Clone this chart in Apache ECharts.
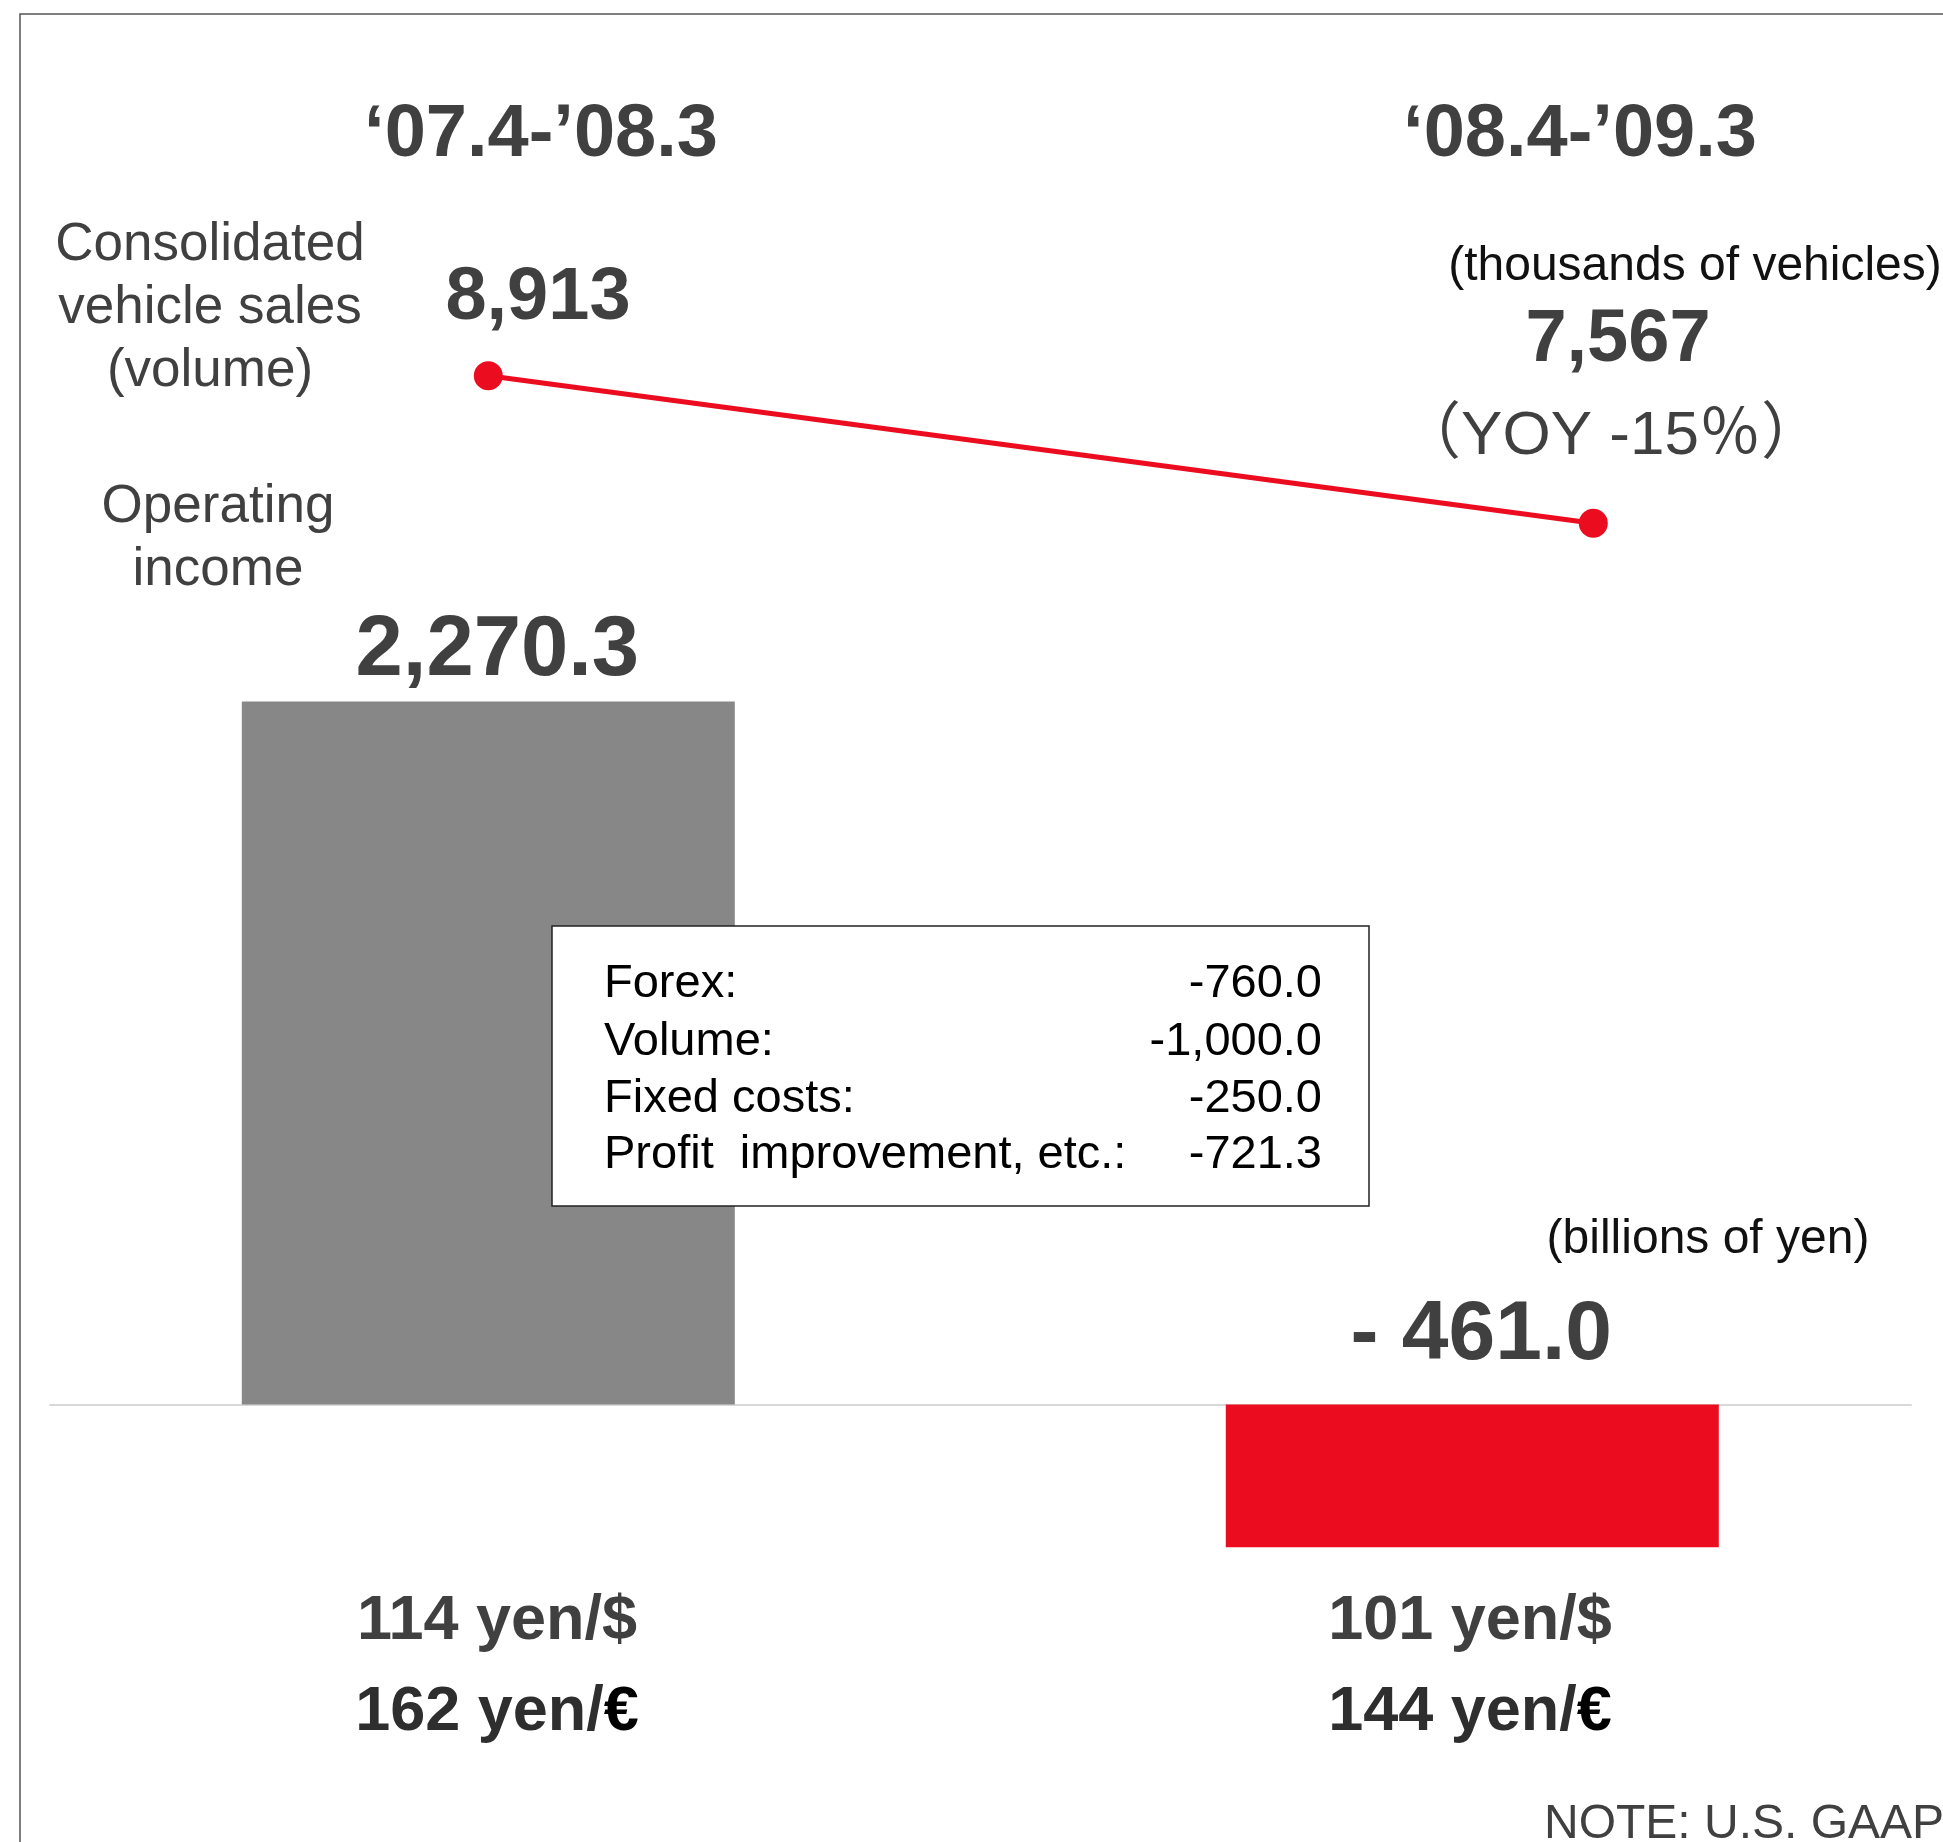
<!DOCTYPE html>
<html>
<head>
<meta charset="utf-8">
<script src="https://cdn.jsdelivr.net/npm/echarts@6/dist/echarts.min.js"></script>
<style>
html,body{margin:0;padding:0;background:#fff;}
#chart{width:1943px;height:1842px;}
</style>
</head>
<body>
<div id="chart"></div>
<script>
// ---- data ----
const categories = ['\u201807.4-\u201908.3', '\u201808.4-\u201909.3'];
const operatingIncome = [2270.3, -461.0];
const vehicleSales = [8913, 7567];
const yoyPercent = -15;
const usdRates = [114, 101];
const eurRates = [162, 144];
const factorLabels = ['Forex:', 'Volume:', 'Fixed costs:', 'Profit  improvement, etc.:'];
const factorValues = [-760.0, -1000.0, -250.0, -721.3];

// ---- helpers ----
const DARK = '#404040';
const RED = '#EC0C20';
const GRAY = '#878787';
const FONT = "'Liberation Sans', Arial, sans-serif";
function fmt(v, d) {
  return Math.abs(v).toLocaleString('en-US', {minimumFractionDigits: d, maximumFractionDigits: d});
}
function signed(v, d, gap) {
  return (v < 0 ? '-' + (gap ? ' ' : '') : '') + fmt(v, d);
}
function txt(text, x, y, size, opts) {
  opts = opts || {};
  return {
    type: 'text', z: 100,
    style: Object.assign({
      text: text, x: x, y: y,
      fontSize: size, fontFamily: opts.family || FONT,
      fontWeight: opts.bold ? 'bold' : 'normal',
      fill: opts.color || DARK,
      align: opts.align || 'center', verticalAlign: 'middle',
      lineHeight: opts.lineHeight || size * 1.2
    }, opts.extra || {})
  };
}

const chart = echarts.init(document.getElementById('chart'), null, {renderer: 'canvas'});

const option = {
  backgroundColor: '#ffffff',
  animation: false,
  grid: [
    {left: 488.3, width: 984, top: 630.25, height: 1084},
    {left: 50, width: 1861, top: 630.25, height: 1084},
    {left: 488.3, width: 1105, top: 366.16, height: 219.3}
  ],
  xAxis: [
    {gridIndex: 0, type: 'category', data: categories, boundaryGap: false, show: false},
    {gridIndex: 1, type: 'value', min: 0, max: 1, show: true,
      axisLine: {show: true, onZero: true, lineStyle: {color: '#d9d9d9', width: 2}},
      axisTick: {show: false}, axisLabel: {show: false}, splitLine: {show: false}},
    {gridIndex: 2, type: 'category', data: categories, boundaryGap: false, show: false}
  ],
  yAxis: [
    {gridIndex: 0, type: 'value', min: -1000, max: 2500, show: false},
    {gridIndex: 1, type: 'value', min: -1000, max: 2500, show: true,
      axisLine: {show: false}, axisTick: {show: false}, axisLabel: {show: false}, splitLine: {show: false}},
    {gridIndex: 2, type: 'value', min: 7000, max: 9000, show: false}
  ],
  series: [
    {
      type: 'bar', xAxisIndex: 0, yAxisIndex: 0, barWidth: 493, z: 3, clip: false,
      data: operatingIncome.map(v => ({value: v, itemStyle: {color: v >= 0 ? GRAY : RED}}))
    },
    {
      type: 'line', xAxisIndex: 2, yAxisIndex: 2, z: 4, clip: false,
      data: vehicleSales,
      symbol: 'circle', symbolSize: 29,
      lineStyle: {color: RED, width: 5},
      itemStyle: {color: RED}
    }
  ]
};
chart.setOption(option);

// ---- annotation texts ----
const g = [];
// frame
g.push({type: 'polyline', z: 100, shape: {points: [[20, 1842], [20, 14], [1943, 14]]},
  style: {stroke: '#555', lineWidth: 1.5, fill: null}});
// period titles
g.push(txt(categories[0], 541, 136, 74, {bold: true}));
g.push(txt(categories[1], 1580, 136, 74, {bold: true}));
// left labels
g.push(txt('Consolidated\nvehicle sales\n(volume)', 210, 308.5, 53, {lineHeight: 63}));
g.push(txt('Operating\nincome', 218, 539, 53, {lineHeight: 63}));
// vehicle sales values
g.push(txt(fmt(vehicleSales[0], 0), 538, 299, 74, {bold: true}));
g.push(txt('(thousands of vehicles)', 1695, 267, 48, {color: '#111'}));
g.push(txt(fmt(vehicleSales[1], 0), 1618, 341, 74, {bold: true}));
g.push(txt('\uFF08YOY ' + yoyPercent + '\uFF05\uFF09', 1611, 436.5, 62,
  {family: "'Liberation Sans', 'Noto Sans CJK JP', sans-serif"}));
// operating income labels, positioned via the bar scale
const pTop0 = chart.convertToPixel({gridIndex: 0}, [0, operatingIncome[0]]);
const pZero1 = chart.convertToPixel({gridIndex: 0}, [1, 0]);
g.push(txt(signed(operatingIncome[0], 1, true), pTop0[0] + 9, pTop0[1] - 50, 85, {bold: true}));
g.push(txt(signed(operatingIncome[1], 1, true), pZero1[0] + 9, pZero1[1] - 69, 84, {bold: true}));
// factor box
g.push({type: 'rect', z: 99, shape: {x: 552, y: 926, width: 817, height: 280},
  style: {fill: '#fff', stroke: '#222', lineWidth: 1.5}});
const rowY = [984, 1042, 1099, 1155];
factorLabels.forEach((l, i) => {
  g.push(txt(l, 604, rowY[i], 47, {align: 'left', color: '#000'}));
  g.push(txt(signed(factorValues[i], 1, false), 1322, rowY[i], 47, {align: 'right', color: '#000'}));
});
g.push(txt('(billions of yen)', 1708, 1240, 48, {color: '#111'}));
// exchange rates
const rateX = [497, 1470];
usdRates.forEach((r, i) => {
  g.push(txt(r + ' yen/$', rateX[i], 1622, 63, {bold: true}));
  g.push(txt('{a|' + eurRates[i] + ' yen/}{b|\u20AC}', rateX[i], 1713, 63, {bold: true, color: '#2e2e2e',
    extra: {rich: {
      a: {fontSize: 63, fontWeight: 'bold', fontFamily: FONT, fill: '#2e2e2e'},
      b: {fontSize: 63, fontWeight: 'bold', fontFamily: FONT, fill: '#000'}
    }}}));
});
g.push(txt('NOTE: U.S. GAAP', 1544, 1825, 48, {align: 'left'}));

chart.setOption({graphic: g});
</script>
</body>
</html>
